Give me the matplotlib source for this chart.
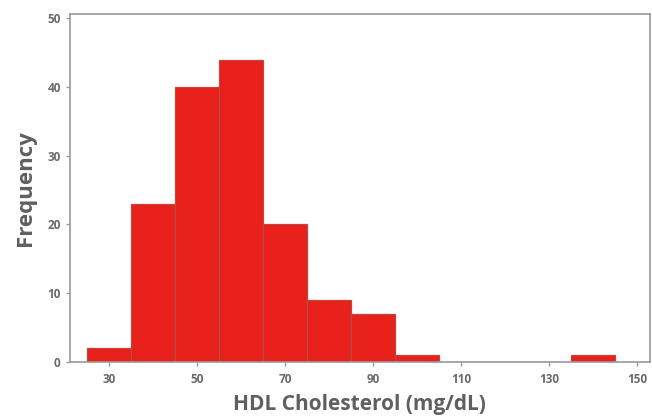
import matplotlib
matplotlib.use("Agg")
import matplotlib.pyplot as plt

# bin centers (mg/dL) and counts
bin_centers = [30, 40, 50, 60, 70, 80, 90, 100, 110, 120, 130, 140]
counts = [2, 23, 40, 44, 20, 9, 7, 1, 0, 0, 0, 1]
x_ticks = [30, 50, 70, 90, 110, 130, 150]
y_ticks = [0, 10, 20, 30, 40, 50]

plt.rcParams['font.family'] = ['Open Sans', 'DejaVu Sans']

fig = plt.figure(figsize=(6.52, 4.17), dpi=100)
ax = fig.add_axes([0.107, 0.132, 0.89, 0.834])

ax.bar(bin_centers, counts, width=10, color='#e8211d', edgecolor='#c0473a', linewidth=0.9)

ax.set_xlim(21, 153)
ax.set_ylim(0, 50.6)
ax.set_xticks(x_ticks)
ax.set_yticks(y_ticks)

for s in ax.spines.values():
    s.set_color('#9a9a9a')
    s.set_linewidth(1.2)

ax.tick_params(axis='both', colors='#9a9a9a', labelcolor='#6b6b6b', labelsize=8.5, length=3, width=1)
ax.tick_params(axis='x', pad=5)
for lbl in ax.get_xticklabels() + ax.get_yticklabels():
    lbl.set_fontweight('bold')

ax.set_xlabel('HDL Cholesterol (mg/dL)', fontsize=15, fontweight='bold', color='#5f5f5f', labelpad=6)
ax.set_ylabel('Frequency', fontsize=16, fontweight='bold', color='#5f5f5f', labelpad=8)

fig.savefig('out.png', dpi=100)
